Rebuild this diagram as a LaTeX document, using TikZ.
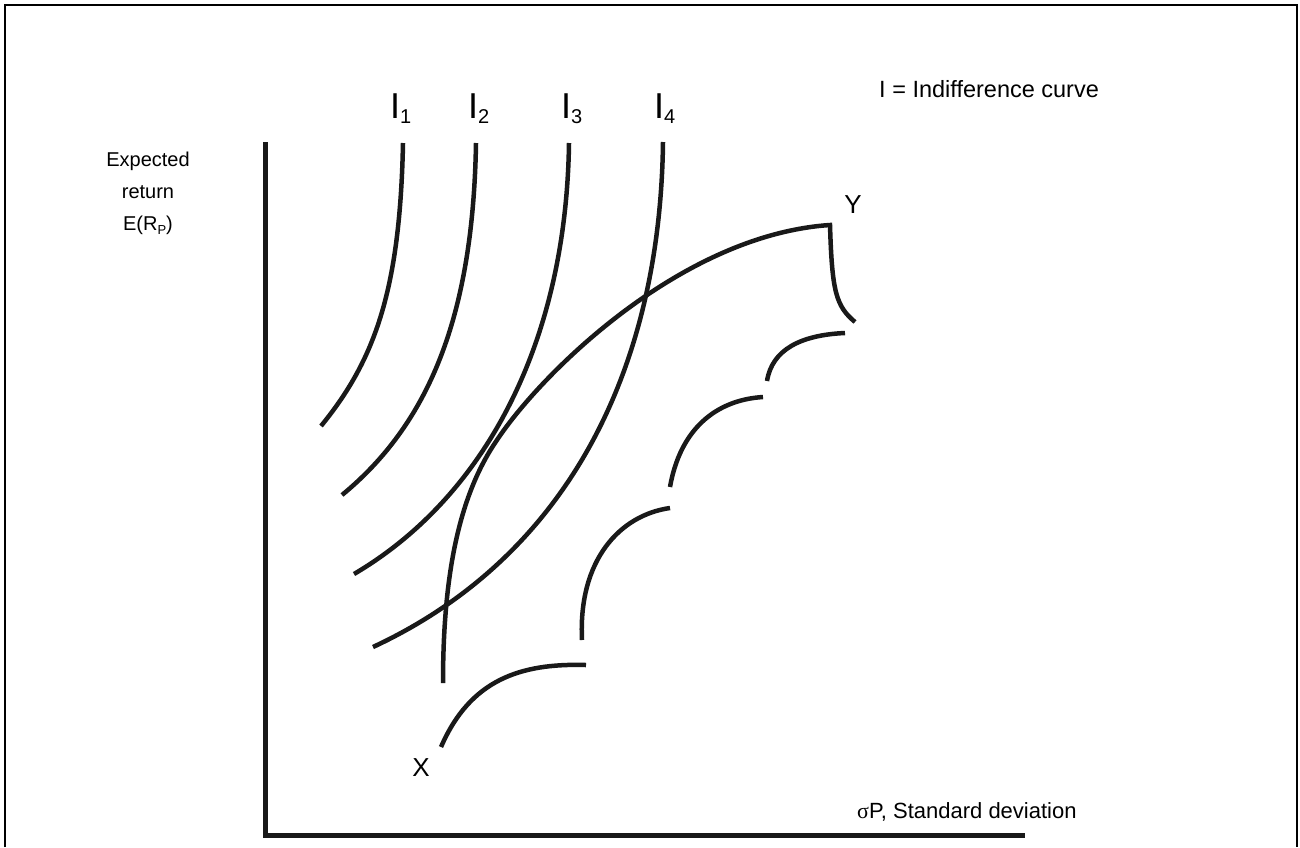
\documentclass[tikz,border=0pt]{standalone}
\usepackage{fontspec}
\setmainfont{Liberation Sans}
\newfontfamily\symfont{Liberation Serif}
\newcommand{\isub}[1]{\raisebox{-5pt}{\fontsize{20}{20}\selectfont #1}}
\begin{document}
\begin{tikzpicture}[x=1pt, y=-1pt,
    curve/.style={line width=4.5pt, color=black!90},
    axis/.style={line width=5pt, color=black!90},
    lbl/.style={font=\fontsize{20}{32}\selectfont, inner sep=0pt},
    ilbl/.style={font=\fontsize{36}{40}\selectfont, inner sep=0pt, anchor=base west}]
    \useasboundingbox (0,0) rectangle (1300,847);
    \draw[line width=2.5pt] (5,847) -- (5,5) -- (1297,5) -- (1297,847);

    % axes
    \coordinate (O) at (265,835);
    \coordinate (T) at (265,142);
    \coordinate (R) at (1025,835);
    \draw[axis] (T) -- (O) -- (R);

    \node[lbl, align=center] (ylab) at (148,193) {Expected\\return\\E(R\raisebox{-4pt}{\fontsize{13}{13}\selectfont P})};
    \node[lbl, font=\fontsize{22}{26}\selectfont, anchor=west] (xlab) at (857,812) {{\symfont σ}P, Standard deviation};

    % indifference curves
    \node[ilbl] (i1) at (390,118) {I\isub{1}};
    \node[ilbl] (i2) at (468,118) {I\isub{2}};
    \node[ilbl] (i3) at (561,118) {I\isub{3}};
    \node[ilbl] (i4) at (654,118) {I\isub{4}};
    \node[lbl, font=\fontsize{23.5}{28}\selectfont, anchor=base west] (key) at (879,97) {I = Indifference curve};

    \draw[curve] (403,143) .. controls (400,290) and (375,360) .. (321,426);
    \draw[curve] (476,143) .. controls (473,320) and (427,425) .. (342,495);
    \draw[curve] (569,143) .. controls (566,350) and (480,500) .. (354,574);
    \draw[curve] (663,142) .. controls (660,380) and (560,560) .. (373,647);

    % portfolio frontier X to Y
    \coordinate (X) at (441,747);
    \coordinate (Y) at (830,225);
    \coordinate (F) at (497,440);
    \node[lbl, font=\fontsize{26}{30}\selectfont] (xname) at (421,768) {X};
    \node[lbl, font=\fontsize{26}{30}\selectfont] (yname) at (853,205) {Y};

    \draw[curve] (443,683) .. controls (443,575) and (459,495) .. (F)
      .. controls (540,375) and (680,235) .. (Y)
      .. controls (832,292) and (836,306) .. (855,322);

    \draw[curve] (X) .. controls (470,680) and (520,663) .. (586,665);
    \draw[curve] (582,640) .. controls (578,560) and (620,515) .. (670,508);
    \draw[curve] (670,487) .. controls (680,430) and (715,400) .. (763,397);
    \draw[curve] (767,381) .. controls (772,350) and (800,335) .. (845,333);
  \end{tikzpicture}
\end{document}
